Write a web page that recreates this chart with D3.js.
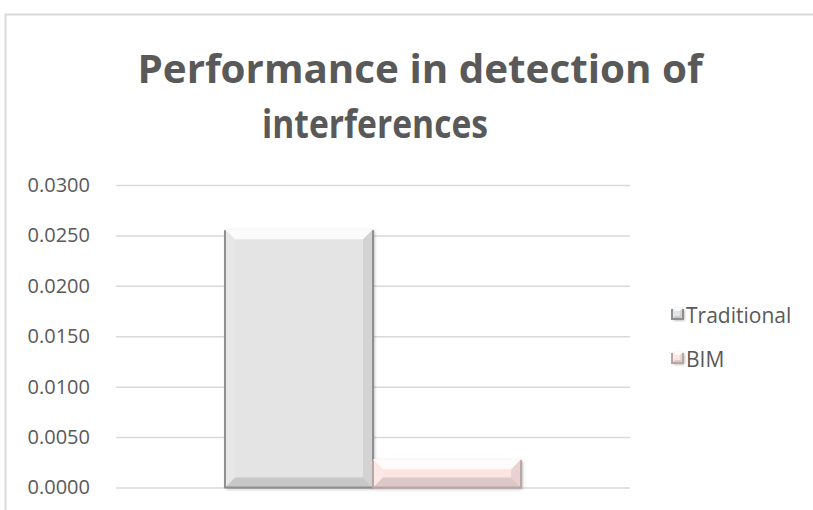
<!DOCTYPE html>
<html>
<head>
<meta charset="utf-8">
<script src="https://cdn.jsdelivr.net/npm/d3@7"></script>
<style>
  body { margin: 0; background: #fff; }
  svg text { font-family: "Open Sans", Lato, sans-serif; fill: #595959; }
</style>
</head>
<body>
<div id="chart"></div>
<script>
var categories = ["Performance"];
var seriesNames = ["Traditional", "BIM"];
var traditionalValues = [0.0256];
var bimValues = [0.0028];
var yTicks = [0, 0.005, 0.01, 0.015, 0.02, 0.025, 0.03];
var titleLines = ["Performance in detection of", "interferences"];

var width = 813, height = 510;
var colors = { "Traditional": "#e4e4e4", "BIM": "#fbe4e2" };
var edgeColors = { "Traditional": "#8f8f8f", "BIM": "#b8a6a4" };

var svg = d3.select("#chart").append("svg")
  .attr("width", width)
  .attr("height", height);

var defs = svg.append("defs");
var shadow = defs.append("filter").attr("id", "shadow")
  .attr("x", "-10%").attr("y", "-10%").attr("width", "130%").attr("height", "130%");
shadow.append("feDropShadow").attr("dx", 1.5).attr("dy", 1.5).attr("stdDeviation", 1.5)
  .attr("flood-color", "#000").attr("flood-opacity", 0.3);

// chart border (runs past the window edges)
svg.append("rect")
  .attr("x", 5.5).attr("y", 14.5)
  .attr("width", 900).attr("height", 600)
  .attr("fill", "none").attr("stroke", "#d9d9d9").attr("stroke-width", 2);

// title, two lines (Calibri-like widths)
var titleCenters = [420, 375];
var titleWidths = [565, 226];
svg.selectAll(".title").data(titleLines).enter().append("text")
  .attr("class", "title")
  .attr("x", function(d, i) { return titleCenters[i]; })
  .attr("y", function(d, i) { return 83 + i * 55; })
  .attr("text-anchor", "middle")
  .attr("textLength", function(d, i) { return titleWidths[i]; })
  .attr("lengthAdjust", "spacingAndGlyphs")
  .style("font-size", "40px")
  .style("font-weight", "bold")
  .text(function(d) { return d; });

var plotLeft = 116, plotRight = 630;
var y = d3.scaleLinear().domain([0, 0.03]).range([487.5, 185]);
var x0 = d3.scaleBand().domain(categories).range([plotLeft, plotRight])
  .paddingInner(0).paddingOuter(0.368);
var x1 = d3.scaleBand().domain(seriesNames).range([0, x0.bandwidth()]);

// gridlines + tick labels
var yAxis = d3.axisLeft(y).tickValues(yTicks)
  .tickSize(-(plotRight - plotLeft))
  .tickPadding(26)
  .tickFormat(d3.format(".4f"));
var gAxis = svg.append("g")
  .attr("transform", "translate(" + plotLeft + ",0)")
  .call(yAxis);
gAxis.select(".domain").remove();
gAxis.selectAll(".tick line").attr("stroke", "#d9d9d9").attr("stroke-width", 1.5);
gAxis.selectAll(".tick text").style("font-size", "20px").attr("fill", "#595959");

var rows = categories.map(function(c, i) {
  return { cat: c, values: [
    { name: "Traditional", value: traditionalValues[i] },
    { name: "BIM", value: bimValues[i] }
  ]};
});

function bevel(g, x, yTop, w, h, name, b) {
  g.append("rect")
    .attr("x", x).attr("y", yTop).attr("width", w).attr("height", h)
    .attr("fill", colors[name])
    .attr("filter", "url(#shadow)");
  var bb = Math.min(b, h / 2, w / 2);
  // top face
  g.append("polygon")
    .attr("points", [[x, yTop], [x + w, yTop], [x + w - bb, yTop + bb], [x + bb, yTop + bb]].join(" "))
    .attr("fill", "#fff").attr("opacity", 0.85);
  // left face
  g.append("polygon")
    .attr("points", [[x, yTop], [x + bb, yTop + bb], [x + bb, yTop + h - bb], [x, yTop + h]].join(" "))
    .attr("fill", "#fff").attr("opacity", 0.12);
  // right face
  g.append("polygon")
    .attr("points", [[x + w, yTop], [x + w - bb, yTop + bb], [x + w - bb, yTop + h - bb], [x + w, yTop + h]].join(" "))
    .attr("fill", "#000").attr("opacity", 0.07);
  // bottom face
  g.append("polygon")
    .attr("points", [[x, yTop + h], [x + bb, yTop + h - bb], [x + w - bb, yTop + h - bb], [x + w, yTop + h]].join(" "))
    .attr("fill", "#000").attr("opacity", 0.12);
  // dark outer edges
  g.append("path")
    .attr("d", "M" + x + "," + (yTop + 1) + "V" + (yTop + h) + "H" + (x + w) + "V" + (yTop + 1))
    .attr("fill", "none").attr("stroke", edgeColors[name]).attr("stroke-width", 2);
}

var gBars = svg.append("g");
rows.forEach(function(r) {
  r.values.forEach(function(v) {
    var bx = x0(r.cat) + x1(v.name);
    var by = y(v.value);
    bevel(gBars, bx, by, x1.bandwidth(), y(0) - by, v.name, 10);
  });
});

// legend
var legend = svg.append("g").attr("transform", "translate(672,308)");
var items = legend.selectAll(".item").data(seriesNames).enter().append("g")
  .attr("class", "item")
  .attr("transform", function(d, i) { return "translate(0," + (i * 44) + ")"; });
items.each(function(d) {
  bevel(d3.select(this), 0, 0, 11, 11, d, 3);
});
items.append("text")
  .attr("x", 14).attr("y", 15)
  .style("font-size", "21px")
  .text(function(d) { return d; });
</script>
</body>
</html>
